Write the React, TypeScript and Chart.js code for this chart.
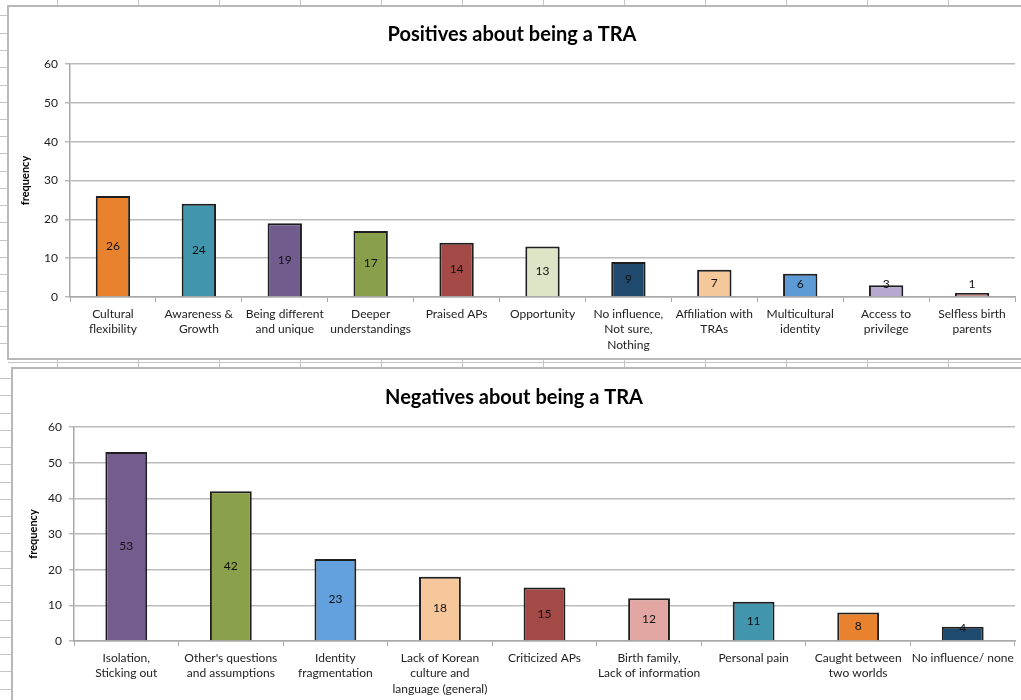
import React, { useEffect, useRef } from "react";
import { Chart, registerables } from "chart.js";

Chart.register(...registerables);

// ---------- DATA ----------
const posTitle = "Positives about being a TRA";
const posLabels: string[][] = [
  ["Cultural", "flexibility"],
  ["Awareness &", "Growth"],
  ["Being different", "and unique"],
  ["Deeper", "understandings"],
  ["Praised APs"],
  ["Opportunity"],
  ["No influence,", "Not sure,", "Nothing"],
  ["Affiliation with", "TRAs"],
  ["Multicultural", "identity"],
  ["Access to", "privilege"],
  ["Selfless birth", "parents"],
];
const posValues = [26, 24, 19, 17, 14, 13, 9, 7, 6, 3, 1];
const posColors = [
  "#E8822E", "#4195AD", "#725C8E", "#8A9F4A", "#A44A46", "#DCE6C6",
  "#1F4A6E", "#F5C89B", "#5D9BD6", "#B6A8D0", "#C98E8A",
];

const negTitle = "Negatives about being a TRA";
const negLabels: string[][] = [
  ["Isolation,", "Sticking out"],
  ["Other's questions", "and assumptions"],
  ["Identity", "fragmentation"],
  ["Lack of Korean", "culture and", "language (general)"],
  ["Criticized APs"],
  ["Birth family,", "Lack of information"],
  ["Personal pain"],
  ["Caught between", "two worlds"],
  ["No influence/ none"],
];
const negValues = [53, 42, 23, 18, 15, 12, 11, 8, 4];
const negColors = [
  "#745D8E", "#8AA04A", "#63A0DE", "#F6C79B", "#A44A46", "#E3A7A3",
  "#4196AE", "#E9822F", "#1F4A70",
];

const yTicks = [0, 10, 20, 30, 40, 50, 60];
const yAxisTitle = "frequency";

// ---------- STYLE ----------
const FONT = "Lato, 'Open Sans', sans-serif";
const GRID = "#BBBBBB";

const barLabelPlugin = {
  id: "barLabels",
  afterDatasetsDraw(chart: any) {
    const ctx = chart.ctx;
    const meta = chart.getDatasetMeta(0);
    const data = chart.data.datasets[0].data;
    ctx.save();
    ctx.font = `12px ${FONT}`;
    ctx.fillStyle = "#111";
    ctx.textAlign = "center";
    ctx.textBaseline = "middle";
    meta.data.forEach((bar: any, i: number) => {
      const mid = (bar.y + bar.base) / 2;
      const y = Math.min(mid, bar.base - 12.5);
      ctx.fillText(String(data[i]), bar.x, y);
    });
    ctx.restore();
  },
};

type Cfg = {
  title: string;
  labels: string[][];
  values: number[];
  colors: string[];
  width: number;
  height: number;
  titlePadTop: number;
  titlePadBottom: number;
  xAxisHeight: number;
  yAxisWidth: number;
  yTitlePad: number;
  rightPad: number;
};

function BarChart(props: Cfg & { style: React.CSSProperties }) {
  const ref = useRef<HTMLCanvasElement>(null);
  useEffect(() => {
    if (!ref.current) return;
    const chart = new Chart(ref.current, {
      type: "bar",
      data: {
        labels: props.labels,
        datasets: [
          {
            data: props.values,
            backgroundColor: props.colors,
            borderColor: "#1E1E1E",
            borderWidth: 2,
            borderSkipped: "bottom",
            barPercentage: 0.4,
            categoryPercentage: 1,
          },
        ],
      },
      options: {
        animation: false,
        responsive: false,
        devicePixelRatio: 1,
        layout: { padding: { left: 0, right: props.rightPad, top: 0, bottom: 0 } },
        plugins: {
          legend: { display: false },
          tooltip: { enabled: false },
          title: {
            display: true,
            text: props.title,
            color: "#000",
            font: { family: FONT, size: 20, weight: "bold" },
            padding: { top: props.titlePadTop, bottom: props.titlePadBottom },
          },
        },
        scales: {
          x: {
            grid: {
              display: true,
              drawOnChartArea: false,
              drawTicks: true,
              tickLength: 5,
              color: "#A8A8A8",
              offset: true,
            },
            border: { color: "#A8A8A8", width: 1.5 },
            ticks: {
              color: "#222",
              font: { family: FONT, size: 12, lineHeight: 1.3 },
              maxRotation: 0,
              autoSkip: false,
              padding: 4,
            },
            afterFit(scale: any) {
              scale.height = props.xAxisHeight;
            },
          },
          y: {
            min: 0,
            max: 60,
            afterBuildTicks(scale: any) {
              scale.ticks = yTicks.map((v) => ({ value: v }));
            },
            grid: {
              color: GRID,
              lineWidth: 1.5,
              drawTicks: true,
              tickLength: 5,
            },
            border: { color: "#A8A8A8", width: 1.5 },
            ticks: {
              color: "#222",
              font: { family: FONT, size: 12 },
              padding: 7,
            },
            title: {
              display: true,
              text: yAxisTitle,
              color: "#000",
              font: { family: FONT, size: 11, weight: "bold" },
              padding: { top: props.yTitlePad, bottom: 4 },
            },
            afterFit(scale: any) {
              scale.width = props.yAxisWidth;
            },
          },
        },
      },
      plugins: [barLabelPlugin],
    } as any);
    return () => chart.destroy();
  }, []);
  return (
    <canvas
      ref={ref}
      width={props.width}
      height={props.height}
      style={{ position: "absolute", width: props.width, height: props.height, ...props.style }}
    />
  );
}

const line = (s: React.CSSProperties): React.CSSProperties => ({
  position: "absolute",
  background: "#C4C4C4",
  ...s,
});

export default function App() {
  const colMarks = [57, 138, 219, 300, 381, 462, 543, 624, 705, 786, 867, 948];
  const rowMarksTop = [15, 33, 50, 67, 85, 102, 119, 136, 153, 171, 188, 205, 222, 240, 257, 274, 291, 309, 326, 343];
  const rowMarksBot = [378, 395, 413, 430, 447, 464, 482, 499, 516, 533, 551, 568, 585, 602, 620, 637, 654, 671, 689];
  return (
    <div
      style={{
        position: "fixed",
        left: 0,
        top: 0,
        width: 1021,
        height: 700,
        background: "#fff",
        overflow: "hidden",
      }}
    >
      {/* spreadsheet background marks */}
      {colMarks.map((x) => (
        <div key={"t" + x} style={line({ left: x, top: 0, width: 1, height: 6 })} />
      ))}
      {colMarks.map((x) => (
        <div key={"m" + x} style={line({ left: x, top: 359, width: 1, height: 9 })} />
      ))}
      {rowMarksTop.map((y) => (
        <div key={"r" + y} style={line({ left: 0, top: y, width: 8, height: 1 })} />
      ))}
      {rowMarksBot.map((y) => (
        <div key={"b" + y} style={line({ left: 0, top: y, width: 12, height: 1 })} />
      ))}
      <div style={line({ left: 8, top: 362, width: 1013, height: 1 })} />
      {/* top chart box */}
      <div
        style={{
          position: "absolute",
          left: 7,
          top: 5,
          width: 1030,
          height: 351,
          border: "2px solid #B8B8B8",
          background: "#fff",
        }}
      />
      {/* bottom chart box */}
      <div
        style={{
          position: "absolute",
          left: 11,
          top: 367,
          width: 1030,
          height: 360,
          border: "2px solid #B8B8B8",
          background: "#fff",
        }}
      />
      <BarChart
        title={posTitle}
        labels={posLabels}
        values={posValues}
        colors={posColors}
        width={1012}
        height={350}
        titlePadTop={16}
        titlePadBottom={17}
        xAxisHeight={60}
        yAxisWidth={61}
        yTitlePad={10}
        rightPad={6}
        style={{ left: 9, top: 7 }}
      />
      <BarChart
        title={negTitle}
        labels={negLabels}
        values={negValues}
        colors={negColors}
        width={1008}
        height={331}
        titlePadTop={17}
        titlePadBottom={17}
        xAxisHeight={59}
        yAxisWidth={61}
        yTitlePad={14}
        rightPad={6}
        style={{ left: 13, top: 369 }}
      />
    </div>
  );
}
